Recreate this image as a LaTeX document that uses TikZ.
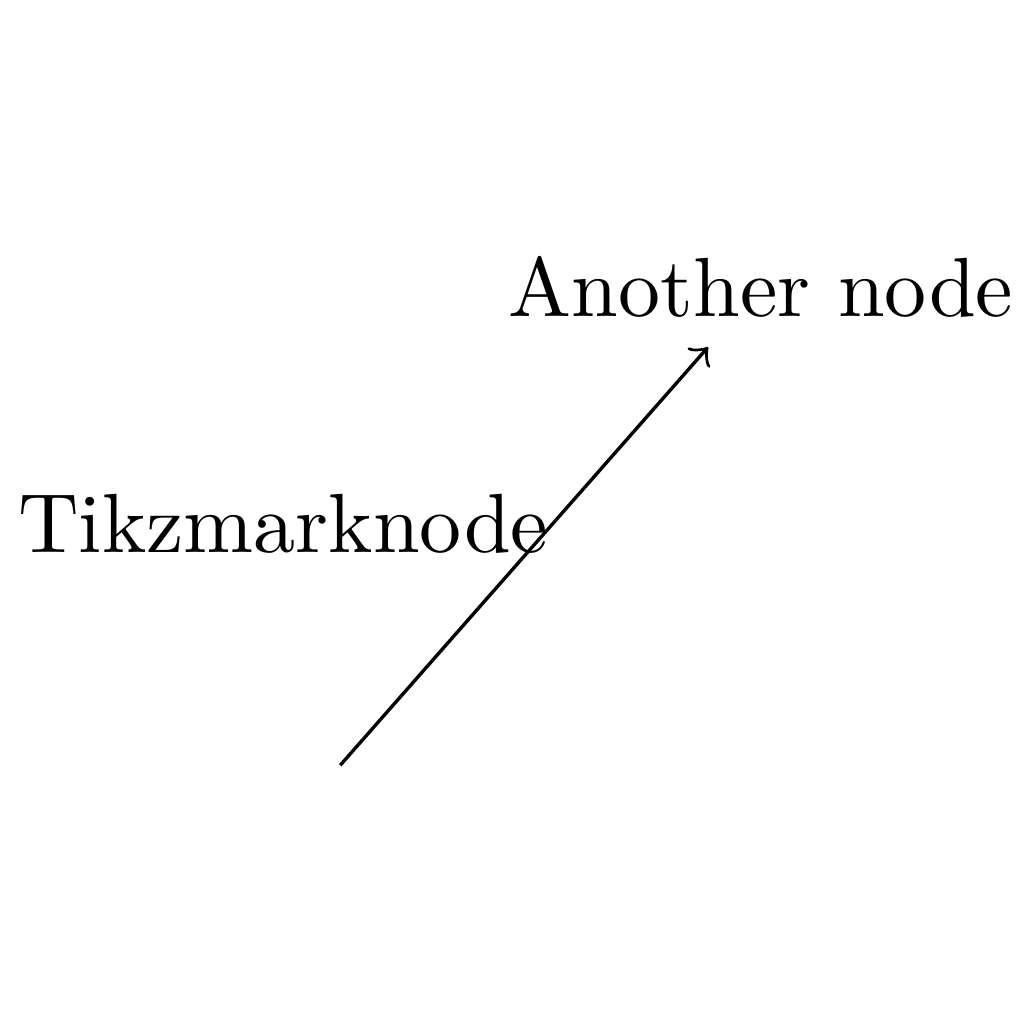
\documentclass[tikz,border=0pt]{standalone}
\begin{document}
\begin{tikzpicture}[x=1pt,y=1pt]
\useasboundingbox (0,0) rectangle (121.9,121.9);
\node (tm) at (33.7,59.5) {Tikzmarknode};
\node (an) at (90.6,87.75) {Another node};
\coordinate (start) at (40.5,30.8);
\draw[->] (start) -- (an);
\end{tikzpicture}
\end{document}
